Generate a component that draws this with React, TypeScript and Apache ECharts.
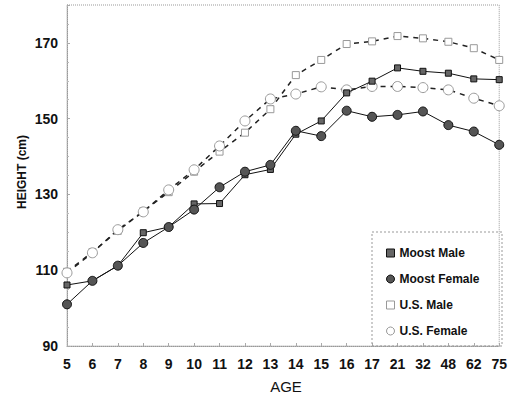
import React, { useEffect, useRef } from "react";
import * as echarts from "echarts";

const ages = ["5", "6", "7", "8", "9", "10", "11", "12", "13", "14", "15", "16", "17", "21", "32", "48", "62", "75"];
const moostMale = [106.1, 107.2, 111.2, 119.9, 121.4, 127.5, 127.6, 135.2, 136.6, 145.9, 149.4, 156.8, 159.9, 163.4, 162.5, 162.0, 160.5, 160.3];
const moostFemale = [101.0, 107.2, 111.2, 117.2, 121.4, 126.0, 131.9, 136.0, 137.8, 146.8, 145.4, 152.1, 150.5, 151.0, 151.9, 148.3, 146.6, 143.1];
const usMale = [109.6, 114.8, 120.4, 125.6, 130.6, 136.0, 141.3, 146.3, 152.5, 161.5, 165.5, 169.7, 170.4, 171.8, 171.2, 170.3, 168.6, 165.5];
const usFemale = [109.3, 114.6, 120.7, 125.4, 131.2, 136.5, 142.8, 149.4, 155.2, 156.5, 158.4, 157.6, 158.5, 158.5, 158.2, 157.6, 155.4, 153.4];
const yTicks = [90, 110, 130, 150, 170];

const FONT = "'Liberation Sans', Arial, sans-serif";

export default function App() {
  const ref = useRef<HTMLDivElement>(null);
  useEffect(() => {
    if (!ref.current) return;
    const chart = echarts.init(ref.current, null, { renderer: "svg" });
    chart.setOption({
      animation: false,
      backgroundColor: "#ffffff",
      grid: {
        left: 67,
        right: 8,
        top: 5,
        bottom: 60,
        show: true,
        borderColor: "#999",
        borderWidth: 1,
        borderType: "dotted",
      },
      xAxis: {
        type: "category",
        data: ages,
        boundaryGap: false,
        axisLine: { lineStyle: { color: "#999", type: "dotted" } },
        axisTick: { inside: true, length: 3, lineStyle: { color: "#aaa" } },
        axisLabel: { fontSize: 14, fontWeight: "bold", color: "#111", fontFamily: FONT, margin: 11 },
        splitLine: { show: false },
      },
      yAxis: {
        type: "value",
        min: yTicks[0],
        max: 180,
        interval: 20,
        axisLine: { show: true, lineStyle: { color: "#999", type: "dotted" } },
        axisTick: { show: true, inside: true, length: 3, lineStyle: { color: "#aaa" } },
        minorTick: { show: true, splitNumber: 4, length: 2, lineStyle: { color: "#bbb" } },
        axisLabel: { fontSize: 14, fontWeight: "bold", color: "#111", fontFamily: FONT, margin: 9, showMaxLabel: false },
        splitLine: { show: false },
      },
      legend: {
        orient: "vertical",
        left: 386,
        top: 246,
        itemWidth: 8,
        itemHeight: 8,
        itemGap: 12,
        padding: 0,
        textStyle: { fontSize: 12, fontWeight: "bold", color: "#111", fontFamily: FONT, lineHeight: 14 },
        data: [
          { name: "Moost Male", icon: "rect", itemStyle: { color: "#666", borderColor: "#111", borderWidth: 1 } },
          { name: "Moost Female", icon: "circle", itemStyle: { color: "#555", borderColor: "#111", borderWidth: 1 } },
          { name: "U.S. Male", icon: "rect", itemStyle: { color: "#fff", borderColor: "#999", borderWidth: 1 } },
          { name: "U.S. Female", icon: "circle", itemStyle: { color: "#fff", borderColor: "#999", borderWidth: 1 } },
        ],
      },
      graphic: [
        {
          type: "rect",
          shape: { x: 372, y: 232, width: 130, height: 114 },
          style: { fill: "none", stroke: "#999", lineWidth: 1, lineDash: [2, 2] },
          z: 10,
        },
        {
          type: "text",
          x: 22,
          y: 172,
          rotation: Math.PI / 2,
          style: { text: "HEIGHT (cm)", fontSize: 12, fontWeight: "bold", fill: "#111", fontFamily: FONT, textAlign: "center", textVerticalAlign: "middle" },
        },
        {
          type: "text",
          x: 286,
          y: 386,
          style: { text: "AGE", fontSize: 15, fill: "#111", fontFamily: FONT, textAlign: "center", textVerticalAlign: "middle" },
        },
      ],
      series: [
        {
          name: "U.S. Male",
          type: "line",
          data: usMale,
          symbol: "rect",
          symbolSize: 7,
          itemStyle: { color: "#fff", borderColor: "#999", borderWidth: 1 },
          lineStyle: { color: "#222", width: 1.5, type: [5, 5] },
          z: 2,
        },
        {
          name: "U.S. Female",
          type: "line",
          data: usFemale,
          symbol: "circle",
          symbolSize: 10,
          itemStyle: { color: "#fff", borderColor: "#999", borderWidth: 1 },
          lineStyle: { color: "#222", width: 1.5, type: [5, 5] },
          z: 2,
        },
        {
          name: "Moost Male",
          type: "line",
          data: moostMale,
          symbol: "rect",
          symbolSize: 6,
          itemStyle: { color: "#666", borderColor: "#111", borderWidth: 1 },
          lineStyle: { color: "#111", width: 1 },
          z: 3,
        },
        {
          name: "Moost Female",
          type: "line",
          data: moostFemale,
          symbol: "circle",
          symbolSize: 9,
          itemStyle: { color: "#555", borderColor: "#111", borderWidth: 1 },
          lineStyle: { color: "#111", width: 1 },
          z: 3,
        },
      ],
    });
    return () => chart.dispose();
  }, []);
  return <div ref={ref} style={{ width: 510, height: 406, position: "absolute", left: 0, top: 0 }} />;
}
